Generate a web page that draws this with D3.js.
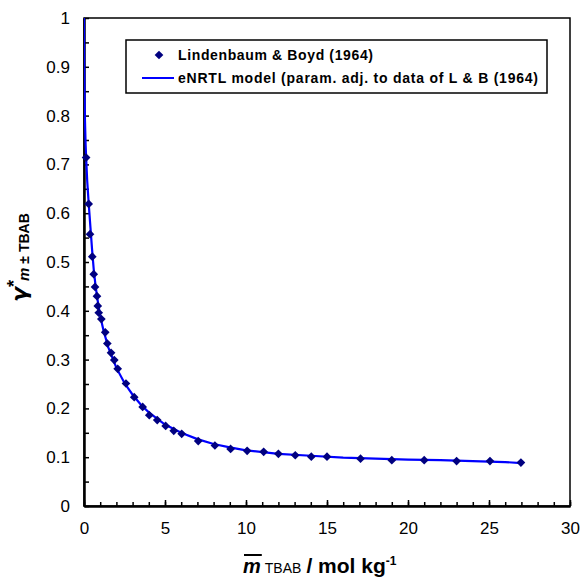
<!DOCTYPE html>
<html>
<head>
<meta charset="utf-8">
<script src="https://cdn.jsdelivr.net/npm/d3@7"></script>
<style>
  body { margin:0; background:#fff; }
  svg { font-family: "Liberation Sans", Arial, sans-serif; }
</style>
</head>
<body>
<svg id="chart" width="584" height="585"></svg>
<script>
// experimental points, Lindenbaum & Boyd (1964)
const expM = [0.13, 0.29, 0.37, 0.51, 0.60, 0.68, 0.80, 0.85, 0.91, 1.07, 1.31, 1.44, 1.67, 1.87, 2.08, 2.59, 3.10, 3.62, 4.03, 4.52, 5.04, 5.54, 6.03, 7.05, 8.08, 9.05, 10.07, 11.09, 12.0, 13.04, 14.03, 15.0, 17.07, 19.0, 21.0, 23.0, 25.06, 26.97];
const expG = [0.714, 0.619, 0.557, 0.511, 0.475, 0.449, 0.430, 0.410, 0.396, 0.383, 0.356, 0.333, 0.314, 0.299, 0.281, 0.251, 0.223, 0.203, 0.186, 0.176, 0.164, 0.154, 0.148, 0.133, 0.124, 0.117, 0.113, 0.111, 0.107, 0.104, 0.101, 0.101, 0.097, 0.094, 0.094, 0.092, 0.092, 0.089];
// eNRTL model curve
const modM = [0, 0.003, 0.01, 0.03, 0.06, 0.1, 0.15, 0.2, 0.3, 0.4, 0.5, 0.6, 0.7, 0.8, 1.0, 1.2, 1.5, 2, 2.5, 3, 3.5, 4, 5, 6, 7, 8, 9, 10, 12, 14, 16, 18, 20, 22, 24, 26, 27];
const modG = [1.0, 0.97, 0.92, 0.85, 0.79, 0.74, 0.70, 0.665, 0.615, 0.57, 0.525, 0.485, 0.455, 0.43, 0.39, 0.36, 0.325, 0.283, 0.252, 0.228, 0.208, 0.192, 0.167, 0.150, 0.137, 0.127, 0.120, 0.114, 0.107, 0.103, 0.099, 0.097, 0.095, 0.094, 0.092, 0.090, 0.088];
const xMajor = [0, 5, 10, 15, 20, 25, 30];
const yMajor = [0, 0.1, 0.2, 0.3, 0.4, 0.5, 0.6, 0.7, 0.8, 0.9, 1];
const legendLabels = ["Lindenbaum & Boyd (1964)", "eNRTL model (param. adj. to data of L & B (1964)"];
const legendWidths = [195, 360];

const svg = d3.select("#chart");
const x = d3.scaleLinear().domain([0, 30]).range([84, 570]);
const y = d3.scaleLinear().domain([0, 1]).range([506, 18]);

svg.append("clipPath").attr("id","clip").append("rect")
  .attr("x",84).attr("y",18).attr("width",486).attr("height",488);

// frame
svg.append("rect").attr("x",84).attr("y",18).attr("width",486).attr("height",488)
  .attr("fill","none").attr("stroke","#000").attr("stroke-width",1.5);

// x axis: minor ticks every 1, major every 5
const xAx = svg.append("g").attr("transform","translate(0,506)");
xAx.call(d3.axisBottom(x).tickValues(d3.range(0,31,1)).tickSizeInner(-4).tickSizeOuter(0).tickFormat(""));
xAx.append("g").call(d3.axisBottom(x).tickValues(xMajor).tickSizeInner(-6).tickSizeOuter(0).tickFormat(d3.format("d")).tickPadding(16));
xAx.selectAll("path.domain").attr("stroke","#000").attr("stroke-width",2);
xAx.selectAll("line").attr("stroke","#000").attr("stroke-width",1.5);
xAx.selectAll("text").attr("font-size",17).attr("font-family","Liberation Sans, Arial").attr("fill","#000");

// y axis: minor ticks every 0.05
const yAx = svg.append("g").attr("transform","translate(84,0)");
yAx.call(d3.axisLeft(y).tickValues(d3.range(0,21).map(i=>i*0.05)).tickSizeInner(-5).tickSizeOuter(0).tickFormat(""));
yAx.append("g").call(d3.axisLeft(y).tickValues(yMajor).tickSizeInner(0).tickSizeOuter(0).tickFormat(d=>d3.format("")(+d.toFixed(1))).tickPadding(14));
yAx.selectAll("path.domain").attr("stroke","#000").attr("stroke-width",2);
yAx.selectAll("line").attr("stroke","#000").attr("stroke-width",1.5);
yAx.selectAll("text").attr("font-size",17).attr("font-family","Liberation Sans, Arial").attr("fill","#000");

// model line
const line = d3.line().x((d,i)=>x(modM[i])).y((d,i)=>y(modG[i]));
svg.append("path").datum(modG).attr("clip-path","url(#clip)")
  .attr("d", line).attr("fill","none").attr("stroke","#0000ff").attr("stroke-width",2.2);

// experimental diamonds
const diamond = d3.symbol().type(d3.symbolSquare).size(38);
svg.append("g").selectAll("path").data(expM).join("path")
  .attr("d", diamond)
  .attr("transform",(d,i)=>`translate(${x(d)},${y(expG[i])}) rotate(45)`)
  .attr("fill","#000080");

// legend
const lg = svg.append("g");
lg.append("rect").attr("x",126).attr("y",40).attr("width",421).attr("height",53)
  .attr("fill","#fff").attr("stroke","#000").attr("stroke-width",1.5);
lg.append("path").attr("d", diamond).attr("transform","translate(159,55) rotate(45)").attr("fill","#000080");
lg.append("line").attr("x1",142).attr("x2",174).attr("y1",78).attr("y2",78).attr("stroke","#0000ff").attr("stroke-width",2);
lg.selectAll("text.lab").data(legendLabels).join("text").attr("class","lab")
  .attr("x",178).attr("y",(d,i)=>60+i*23)
  .attr("textLength",(d,i)=>legendWidths[i]).attr("lengthAdjust","spacing")
  .attr("font-size",14).attr("font-weight","bold").attr("fill","#000").text(d=>d);

// x-axis title
const xt = svg.append("text").attr("x",243).attr("y",573).attr("font-weight","bold").attr("font-size",20);
xt.append("tspan").attr("font-style","italic").text("m");
xt.append("tspan").attr("font-size",14).attr("font-weight","normal").attr("dx",4).text("TBAB");
xt.append("tspan").attr("dx",5).attr("font-size",21).text("/ mol kg");
xt.append("tspan").attr("font-size",12).attr("dy",-8).text("-1");
const mLen = xt.select("tspan").node().getComputedTextLength();
svg.append("line").attr("x1",244).attr("x2",244+mLen).attr("y1",555).attr("y2",555)
  .attr("stroke","#000").attr("stroke-width",2);

// y-axis title
const yt = svg.append("text").attr("transform","translate(27,302) rotate(-90)")
  .attr("font-weight","bold").attr("font-size",22);
yt.append("tspan").attr("font-style","italic").attr("font-family","DejaVu Sans, sans-serif").text("γ");
yt.append("tspan").attr("font-size",18).attr("dy",-7).text("*");
yt.append("tspan").attr("font-size",15).attr("font-style","italic").attr("dy",9).attr("dx",-1).text("m");
yt.append("tspan").attr("font-size",14).attr("dx",4).text("± TBAB");
</script>
</body>
</html>
